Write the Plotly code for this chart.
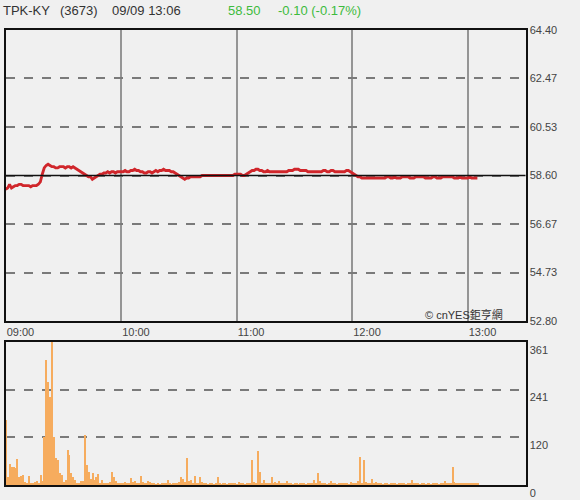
import pandas as pd
import plotly.graph_objects as go

# ---------------- data ----------------
stock_name = "TPK-KY"
stock_code = "(3673)"
stamp = "09/09 13:06"
last_price = "58.50"
change_text = "-0.10 (-0.17%)"
prev_close = 58.60

price = [
    58.05, 58.10, 58.25, 58.10, 58.15, 58.20, 58.20, 58.25, 58.25, 58.20,
    58.20, 58.20, 58.20, 58.15, 58.20, 58.20, 58.20, 58.25, 58.35, 58.65,
    58.90, 59.00, 59.05, 59.00, 58.95, 58.95, 58.90, 58.90, 58.95, 58.95,
    58.95, 58.90, 58.95, 58.95, 58.90, 58.95, 58.90, 58.85, 58.80, 58.75,
    58.70, 58.65, 58.60, 58.55, 58.55, 58.45, 58.50, 58.55, 58.60, 58.65,
    58.65, 58.70, 58.70, 58.75, 58.70, 58.75, 58.75, 58.70, 58.75, 58.75,
    58.75, 58.75, 58.80, 58.75, 58.75, 58.80, 58.80, 58.85, 58.80, 58.80,
    58.75, 58.75, 58.70, 58.70, 58.75, 58.75, 58.70, 58.75, 58.80, 58.75,
    58.80, 58.80, 58.85, 58.80, 58.80, 58.80, 58.75, 58.75, 58.70, 58.65,
    58.60, 58.55, 58.50, 58.45, 58.50, 58.50, 58.55, 58.55, 58.55, 58.55,
    58.55, 58.55, 58.60, 58.60, 58.60, 58.60, 58.60, 58.60, 58.60, 58.60,
    58.60, 58.60, 58.60, 58.60, 58.60, 58.60, 58.60, 58.60, 58.60, 58.65,
    58.65, 58.65, 58.65, 58.60, 58.60, 58.65, 58.70, 58.75, 58.80, 58.80,
    58.85, 58.85, 58.80, 58.80, 58.75, 58.75, 58.80, 58.75, 58.75, 58.75,
    58.75, 58.75, 58.75, 58.75, 58.75, 58.75, 58.75, 58.80, 58.80, 58.80,
    58.85, 58.85, 58.85, 58.80, 58.80, 58.80, 58.80, 58.75, 58.75, 58.75,
    58.75, 58.75, 58.75, 58.75, 58.75, 58.80, 58.80, 58.75, 58.75, 58.80,
    58.80, 58.75, 58.75, 58.75, 58.75, 58.75, 58.75, 58.80, 58.80, 58.75,
    58.70, 58.65, 58.60, 58.55, 58.55, 58.50, 58.50, 58.50, 58.50, 58.50,
    58.50, 58.50, 58.50, 58.50, 58.50, 58.50, 58.50, 58.50, 58.55, 58.55,
    58.50, 58.50, 58.55, 58.50, 58.50, 58.50, 58.55, 58.55, 58.55, 58.55,
    58.50, 58.50, 58.50, 58.55, 58.55, 58.55, 58.55, 58.55, 58.50, 58.50,
    58.50, 58.50, 58.55, 58.55, 58.50, 58.50, 58.50, 58.55, 58.55, 58.55,
    58.55, 58.55, 58.55, 58.50, 58.50, 58.50, 58.55, 58.50, 58.50, 58.50,
    58.50, 58.55, 58.50, 58.50, 58.50, 58.50,
]

volume = [
    164, 20, 53, 45, 46, 42, 66, 21, 23, 24,
    8, 5, 23, 6, 4, 8, 10, 6, 25, 10,
    122, 315, 261, 223, 361, 122, 67, 63, 30, 25,
    8, 13, 88, 76, 30, 20, 12, 6, 5, 10,
    10, 126, 50, 34, 15, 30, 12, 21, 29, 6,
    13, 5, 4, 6, 8, 34, 21, 10, 4, 3,
    5, 3, 8, 6, 4, 17, 8, 10, 5, 4,
    23, 8, 6, 4, 10, 7, 3, 4, 2, 3,
    2, 4, 3, 5, 13, 3, 2, 4, 3, 6,
    8, 21, 15, 8, 67, 10, 12, 5, 23, 6,
    4, 21, 8, 5, 3, 2, 4, 3, 2, 5,
    19, 3, 2, 4, 3, 2, 3, 4, 6, 3,
    2, 8, 3, 4, 2, 3, 4, 5, 63, 8,
    5, 87, 34, 6, 13, 4, 5, 3, 19, 5,
    8, 4, 10, 6, 5, 3, 10, 4, 3, 2,
    3, 4, 2, 5, 3, 4, 2, 3, 6, 4,
    13, 6, 31, 10, 4, 3, 5, 2, 4, 10,
    3, 4, 2, 5, 3, 4, 6, 3, 2, 8,
    4, 5, 6, 10, 71, 6, 63, 8, 5, 4,
    15, 6, 8, 4, 3, 5, 2, 4, 3, 2,
    3, 5, 4, 2, 3, 6, 4, 3, 2, 5,
    4, 13, 6, 3, 4, 2, 3, 5, 2, 4,
    3, 2, 4, 5, 3, 2, 4, 6, 10, 4,
    3, 5, 46, 8, 4, 5, 6, 3, 4, 5,
    4, 6, 3, 5, 4, 6,
]

price_ticks = [52.80, 54.73, 56.67, 58.60, 60.53, 62.47, 64.40]
volume_ticks = [0, 120, 241, 361]
time_ticks = ["09:00", "10:00", "11:00", "12:00", "13:00"]
session_start = "2024-09-09 09:00"
session_end = "2024-09-09 13:30"

times = pd.date_range(session_start, periods=len(price), freq="min")
time_tick_vals = [f"2024-09-09 {t}" for t in time_ticks]

# ---------------- figure ----------------
W, H = 580, 500
BG = "#f0f0f0"
TXT = "#444444"
x_dom = [5.7 / W, 525.5 / W]

fig = go.Figure()

fig.add_trace(go.Scatter(
    x=times, y=price, mode="lines",
    line=dict(color="#d0262b", width=2.8),
    xaxis="x", yaxis="y", hoverinfo="skip", showlegend=False,
))

fig.add_trace(go.Bar(
    x=times, y=volume, width=38000,
    marker=dict(color="#f6ac5e", line=dict(width=0)),
    xaxis="x2", yaxis="y2", hoverinfo="skip", showlegend=False,
))

# previous-close reference line
fig.add_shape(type="line", xref="x domain", yref="y", x0=0, x1=1,
              y0=prev_close, y1=prev_close,
              line=dict(color="#111111", width=1.5), layer="above")

fig.update_layout(
    width=W, height=H, autosize=False,
    margin=dict(l=0, r=0, t=0, b=0, pad=0, autoexpand=False),
    paper_bgcolor=BG, plot_bgcolor=BG,
    font=dict(family="Liberation Sans, Arial, sans-serif", size=11, color=TXT),
    bargap=0,
    xaxis=dict(
        domain=x_dom, anchor="y", type="date",
        range=[session_start, session_end],
        tickvals=time_tick_vals, ticktext=time_ticks,
        ticklabelposition="outside right", ticks="",
        showgrid=True, gridcolor="#959595", gridwidth=1.5,
        showline=True, linecolor="#111111", linewidth=2, mirror=True,
        tickfont=dict(size=11, color=TXT), zeroline=False, automargin=False,
    ),
    yaxis=dict(
        domain=[179 / H, 470 / H], anchor="x", side="right",
        range=[price_ticks[0], price_ticks[-1]],
        tickvals=price_ticks, tickformat=".2f", ticks="",
        showgrid=True, gridcolor="#7a7a7a", gridwidth=1.8, griddash="dash",
        showline=True, linecolor="#111111", linewidth=2, mirror=True,
        tickfont=dict(size=11, color=TXT), zeroline=False, automargin=False,
    ),
    xaxis2=dict(
        domain=x_dom, anchor="y2", type="date",
        range=[session_start, session_end],
        showticklabels=False, ticks="", showgrid=False,
        showline=True, linecolor="#111111", linewidth=2, mirror=True,
        zeroline=False, automargin=False,
    ),
    yaxis2=dict(
        domain=[15 / H, 158 / H], anchor="x2", side="right",
        range=[volume_ticks[0], volume_ticks[-1]],
        tickvals=volume_ticks, ticks="", ticklabelposition="outside bottom",
        showgrid=True, gridcolor="#7a7a7a", gridwidth=1.8, griddash="dash",
        showline=True, linecolor="#111111", linewidth=2, mirror=True,
        tickfont=dict(size=11, color=TXT), zeroline=False, automargin=False,
    ),
)

head_y = 1 - 10 / H
header = [
    (stock_name, 1, "#333333"),
    (stock_code, 58, "#333333"),
    (stamp, 110, "#333333"),
    (last_price, 226, "#3dbb3d"),
    (change_text, 276, "#3dbb3d"),
]
for txt, px, col in header:
    fig.add_annotation(text=txt, xref="paper", yref="paper", x=px / W, y=head_y,
                       xanchor="left", yanchor="middle", showarrow=False,
                       font=dict(size=13, color=col))

fig.add_annotation(text="© cnYES鉅亨網", xref="paper", yref="paper",
                   x=505 / W, y=1 - 314 / H, xanchor="right", yanchor="middle",
                   showarrow=False,
                   font=dict(size=11, color="#333333",
                             family="Liberation Sans, Noto Sans CJK TC, sans-serif"))

fig.write_html(
    "out.html",
    config={"displayModeBar": False, "responsive": False},
    post_script="document.body.style.margin='0';document.body.style.padding='0';"
                "document.documentElement.style.overflow='hidden';",
)
